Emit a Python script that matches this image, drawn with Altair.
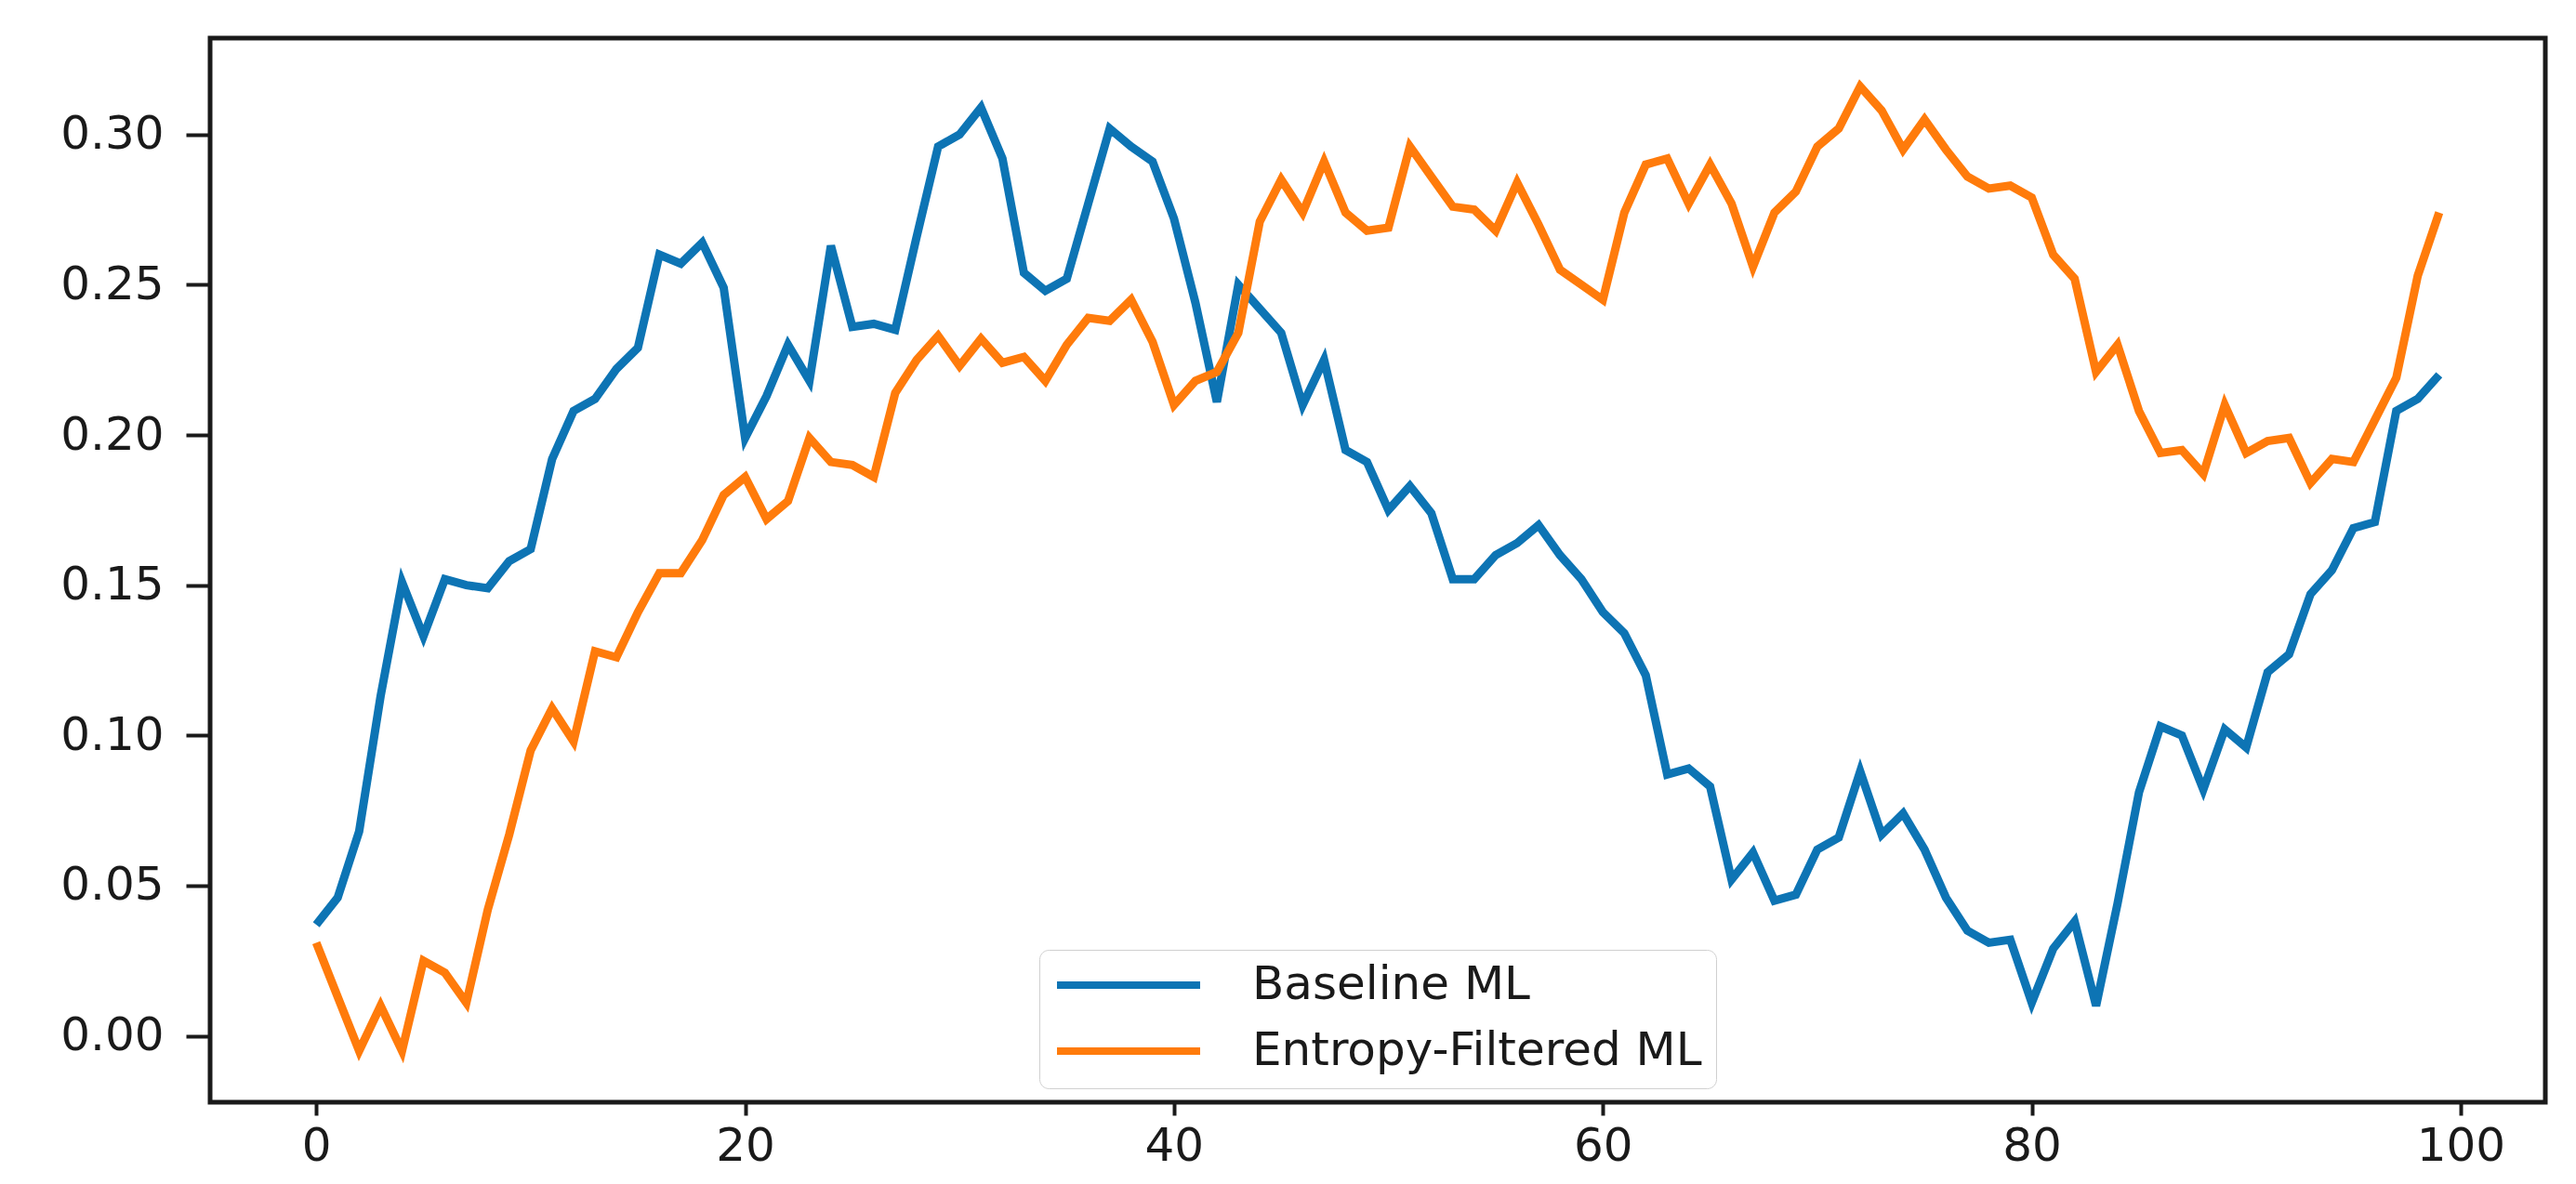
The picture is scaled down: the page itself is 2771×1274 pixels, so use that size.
import altair as alt
import pandas as pd

steps = list(range(100))

baseline_ml = [
    0.037, 0.046, 0.068, 0.113, 0.151, 0.133, 0.152, 0.150, 0.149, 0.158,
    0.162, 0.192, 0.208, 0.212, 0.222, 0.229, 0.260, 0.257, 0.264, 0.249,
    0.199, 0.213, 0.230, 0.218, 0.263, 0.236, 0.237, 0.235, 0.266, 0.296,
    0.300, 0.309, 0.292, 0.254, 0.248, 0.252, 0.277, 0.302, 0.296, 0.291,
    0.272, 0.244, 0.211, 0.250, 0.242, 0.234, 0.210, 0.225, 0.195, 0.191,
    0.175, 0.183, 0.174, 0.152, 0.152, 0.160, 0.164, 0.170, 0.160, 0.152,
    0.141, 0.134, 0.120, 0.087, 0.089, 0.083, 0.052, 0.061, 0.045, 0.047,
    0.062, 0.066, 0.088, 0.067, 0.074, 0.062, 0.046, 0.035, 0.031, 0.032,
    0.011, 0.029, 0.038, 0.010, 0.044, 0.081, 0.103, 0.100, 0.082, 0.102,
    0.096, 0.121, 0.127, 0.147, 0.155, 0.169, 0.171, 0.208, 0.212, 0.220,
]

entropy_filtered_ml = [
    0.031, 0.013, -0.005, 0.010, -0.005, 0.025, 0.021, 0.011, 0.042, 0.067,
    0.095, 0.109, 0.098, 0.128, 0.126, 0.141, 0.154, 0.154, 0.165, 0.180,
    0.186, 0.172, 0.178, 0.199, 0.191, 0.190, 0.186, 0.214, 0.225, 0.233,
    0.223, 0.232, 0.224, 0.226, 0.218, 0.230, 0.239, 0.238, 0.245, 0.231,
    0.210, 0.218, 0.221, 0.234, 0.271, 0.285, 0.274, 0.291, 0.274, 0.268,
    0.269, 0.296, 0.286, 0.276, 0.275, 0.268, 0.284, 0.270, 0.255, 0.250,
    0.245, 0.274, 0.290, 0.292, 0.277, 0.290, 0.277, 0.256, 0.274, 0.281,
    0.296, 0.302, 0.316, 0.308, 0.295, 0.305, 0.295, 0.286, 0.282, 0.283,
    0.279, 0.260, 0.252, 0.221, 0.230, 0.208, 0.194, 0.195, 0.187, 0.210,
    0.194, 0.198, 0.199, 0.184, 0.192, 0.191, 0.205, 0.219, 0.253, 0.274,
]

series_names = ["Baseline ML", "Entropy-Filtered ML"]
series_colors = ["#0d74b4", "#ff7b0b"]
x_ticks = [0, 20, 40, 60, 80, 100]
y_ticks = [0.00, 0.05, 0.10, 0.15, 0.20, 0.25, 0.30]

df = pd.concat([
    pd.DataFrame({"step": steps, "value": baseline_ml, "series": series_names[0]}),
    pd.DataFrame({"step": steps, "value": entropy_filtered_ml, "series": series_names[1]}),
])

FONT = "DejaVu Sans"
FS = 50
INK = "#1a1a1a"

chart = alt.Chart(df).mark_line(strokeWidth=9, clip=True).encode(
    x=alt.X("step:Q",
            scale=alt.Scale(domain=[-4.95, 103.95], nice=False, zero=False),
            axis=alt.Axis(values=x_ticks, format="d", title=None, grid=False,
                          tickSize=14, tickWidth=4, tickColor=INK,
                          labelPadding=8, labelFont=FONT, labelFontSize=FS,
                          labelColor=INK, domain=False)),
    y=alt.Y("value:Q",
            scale=alt.Scale(domain=[-0.0221, 0.3321], nice=False, zero=False),
            axis=alt.Axis(values=y_ticks, format=".2f", title=None, grid=False,
                          tickSize=26, tickWidth=4, tickColor=INK,
                          labelPadding=24, labelFont=FONT, labelFontSize=FS,
                          labelColor=INK, domain=False)),
    color=alt.Color("series:N",
                    scale=alt.Scale(domain=series_names, range=series_colors),
                    legend=alt.Legend(
                        title=None, orient="none", legendX=892, legendY=981,
                        symbolType="stroke", symbolSize=23716, symbolStrokeWidth=8,
                        clipHeight=46, rowPadding=21, padding=15,
                        labelOffset=52, labelFont=FONT, labelFontSize=FS,
                        labelColor=INK, labelLimit=1000,
                        fillColor="white", strokeColor="#d0d0d0", cornerRadius=10,
                    )),
    order="step:Q",
).properties(
    width=2512,
    height=1145,
    background="white",
    autosize=alt.AutoSizeParams(type="none"),
    padding={"left": 218, "top": 33, "right": 25, "bottom": 80},
).configure_view(
    stroke=INK, strokeWidth=5, fill="white"
)

chart.save("out.html", embed_options={"renderer": "svg", "actions": False})
